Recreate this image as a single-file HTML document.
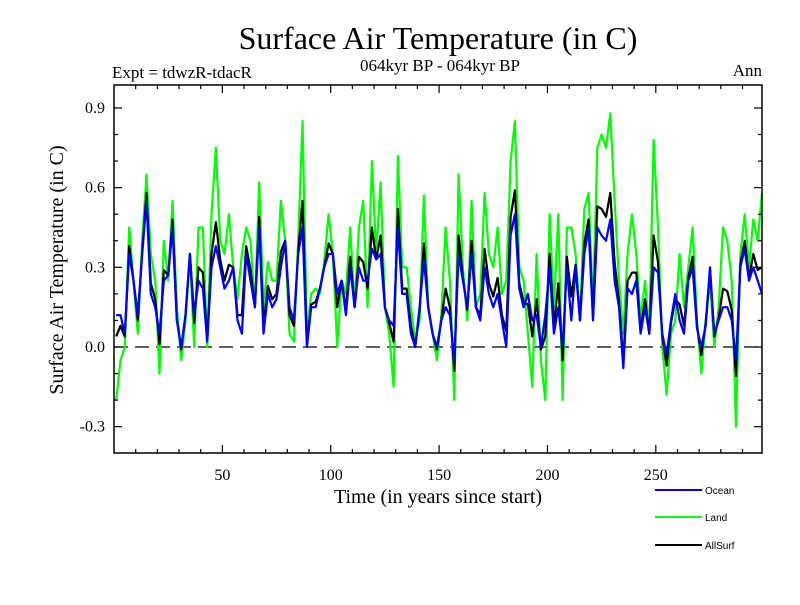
<!DOCTYPE html>
<html><head><meta charset="utf-8"><style>
body{margin:0;background:#fff;}
svg text{font-family:"Liberation Serif",serif;}
</style></head><body>
<svg id="chart" width="800" height="600" xmlns="http://www.w3.org/2000/svg">
<rect width="800" height="600" fill="#fff"/>
<text x="438" y="49" font-size="32" text-anchor="middle">Surface Air Temperature (in C)</text>
<text x="112" y="78" font-size="17">Expt = tdwzR-tdacR</text>
<text x="440" y="71" font-size="17" text-anchor="middle">064kyr BP - 064kyr BP</text>
<text x="762" y="76" font-size="17" text-anchor="end">Ann</text>
<text transform="translate(63,270) rotate(-90)" font-size="20" text-anchor="middle">Surface Air Temperature (in C)</text>
<text x="438" y="503" font-size="20" text-anchor="middle">Time (in years since start)</text>
<g id="plot"></g>
<g font-family="Liberation Sans,sans-serif">
<line x1="655" y1="490" x2="702" y2="490" stroke="#0000ff" stroke-width="2"/>
<text x="705" y="494" font-size="10" style="font-family:'Liberation Sans',sans-serif">Ocean</text>
<line x1="655" y1="517" x2="702" y2="517" stroke="#00ff00" stroke-width="2"/>
<text x="705" y="521" font-size="10" style="font-family:'Liberation Sans',sans-serif">Land</text>
<line x1="655" y1="545" x2="702" y2="545" stroke="#000" stroke-width="2"/>
<text x="705" y="549" font-size="10" style="font-family:'Liberation Sans',sans-serif">AllSurf</text>
</g>
</svg>
<script>
const startYear = 1, yearStep = 2;
const xTicks = [50,100,150,200,250];
const yTicks = [-0.3,0.0,0.3,0.6,0.9];
const yTickLabels = ["-0.3","0.0","0.3","0.6","0.9"];
const ocean = [0.12,0.12,0.05,0.35,0.25,0.12,0.35,0.55,0.20,0.15,0.05,0.25,0.27,0.45,0.10,0.00,0.12,0.35,0.12,0.25,0.22,0.02,0.30,0.38,0.30,0.22,
0.25,0.30,0.10,0.05,0.35,0.25,0.15,0.45,0.05,0.20,0.15,0.18,0.30,0.40,0.15,0.10,0.35,0.45,0.00,0.15,0.15,0.22,0.30,0.35,0.35,0.20,
0.25,0.12,0.30,0.15,0.30,0.25,0.25,0.37,0.33,0.35,0.15,0.10,0.08,0.45,0.20,0.20,0.05,0.00,0.15,0.33,0.15,0.05,0.00,0.10,0.15,0.12,-0.05,
0.35,0.25,0.15,0.35,0.15,0.10,0.30,0.20,0.15,0.20,0.10,0.00,0.42,0.50,0.22,0.15,0.20,0.10,0.12,0.00,0.12,0.30,0.05,0.15,0.00,0.30,
0.10,0.30,0.10,0.35,0.45,0.10,0.45,0.42,0.40,0.48,0.25,0.15,-0.08,0.22,0.20,0.25,0.05,0.15,0.05,0.30,0.28,0.05,-0.03,0.10,0.20,0.10,0.05,
0.25,0.30,0.07,0.00,0.08,0.30,0.05,0.10,0.15,0.15,0.10,-0.05,0.30,0.37,0.25,0.30,0.25,0.20];
const land = [-0.20,-0.05,0.00,0.45,0.25,0.05,0.40,0.65,0.35,0.25,-0.10,0.40,0.25,0.55,0.15,-0.05,0.10,0.35,0.00,0.45,0.45,0.00,0.50,0.75,0.40,0.35,
0.50,0.30,0.18,0.35,0.45,0.40,0.15,0.62,0.15,0.32,0.25,0.25,0.55,0.40,0.05,0.02,0.40,0.85,0.05,0.20,0.22,0.20,0.32,0.50,0.35,0.00,
0.25,0.20,0.45,0.15,0.45,0.55,0.15,0.70,0.35,0.62,0.15,0.05,-0.15,0.72,0.30,0.30,0.15,0.02,0.10,0.57,0.15,0.05,-0.05,0.12,0.45,0.25,-0.20,
0.65,0.30,0.10,0.55,0.15,0.20,0.58,0.35,0.30,0.45,0.20,0.25,0.70,0.85,0.30,0.25,0.05,-0.15,0.35,-0.05,-0.20,0.50,0.15,0.50,-0.20,0.45,
0.45,0.35,0.10,0.52,0.58,0.15,0.75,0.80,0.75,0.88,0.55,0.25,0.05,0.35,0.50,0.35,0.10,0.25,0.05,0.78,0.45,0.00,-0.18,0.05,0.10,0.35,0.15,
0.30,0.45,0.10,-0.10,0.10,0.25,0.00,0.15,0.45,0.40,0.25,-0.30,0.35,0.50,0.30,0.48,0.40,0.58];
const allSurf = [0.04,0.08,0.04,0.38,0.25,0.10,0.36,0.58,0.24,0.18,0.01,0.29,0.27,0.48,0.11,-0.01,0.12,0.35,0.09,0.30,0.28,0.02,0.35,0.47,0.33,0.25,
0.31,0.30,0.12,0.12,0.38,0.29,0.15,0.49,0.08,0.23,0.18,0.20,0.36,0.40,0.12,0.08,0.36,0.55,0.01,0.16,0.17,0.22,0.30,0.39,0.35,0.15,
0.25,0.14,0.34,0.15,0.34,0.32,0.22,0.45,0.33,0.42,0.15,0.09,0.02,0.52,0.22,0.22,0.08,0.00,0.14,0.39,0.15,0.05,-0.01,0.10,0.22,0.15,-0.09,
0.42,0.26,0.14,0.40,0.15,0.12,0.37,0.24,0.19,0.26,0.12,0.06,0.49,0.59,0.24,0.17,0.16,0.04,0.18,-0.01,0.04,0.35,0.08,0.24,-0.05,0.34,
0.19,0.31,0.10,0.39,0.48,0.11,0.53,0.52,0.49,0.58,0.32,0.17,-0.05,0.25,0.28,0.28,0.06,0.18,0.05,0.42,0.32,0.04,-0.07,0.09,0.18,0.16,0.08,
0.26,0.34,0.08,-0.03,0.09,0.29,0.04,0.11,0.22,0.21,0.14,-0.11,0.31,0.40,0.26,0.35,0.29,0.30];

const L=114,R=762,T=85,B=453;
function xs(yr){return L+(yr-0)*(R-L)/299;}
function ys(v){return 347 - v*265.6;}
const NS="http://www.w3.org/2000/svg";
const plot=document.getElementById('plot');
function mk(tag,attrs){const e=document.createElementNS(NS,tag);for(const k in attrs)e.setAttribute(k,attrs[k]);plot.appendChild(e);return e;}
// zero line
let z=mk('line',{x1:L,x2:R,y1:ys(0),y2:ys(0),stroke:'#000','stroke-width':1.3,'stroke-dasharray':'14,7'});


function series(arr,color,name){
  const pts=arr.map((v,i)=>xs(startYear+i*yearStep).toFixed(1)+','+ys(v).toFixed(1)).join(' ');
  const p=mk('polyline',{points:pts,fill:'none',stroke:color,'stroke-width':2.2,'stroke-linejoin':'round'});
  
  
}
series(land,'#00ff00','land-line');
series(allSurf,'#000000','allsurf-line');
series(ocean,'#0000ff','ocean-line');
// frame
let f=mk('rect',{x:L,y:T,width:R-L,height:B-T,fill:'none',stroke:'#000','stroke-width':1.5});


// x ticks
for(let yr=10;yr<299;yr+=10){
  const major=yr%50===0, len=major?8:4;
  mk('line',{x1:xs(yr),x2:xs(yr),y1:B,y2:B-len,stroke:'#000','stroke-width':1.2});
  mk('line',{x1:xs(yr),x2:xs(yr),y1:T,y2:T+len,stroke:'#000','stroke-width':1.2});
}
xTicks.forEach(t=>{
  const tx=mk('text',{x:xs(t),y:480,'font-size':16,'text-anchor':'middle'});
  tx.textContent=t;
  
  
});
// y ticks
for(let k=-3;k<=9;k++){
  const v=k/10, major=(k%3===0), len=major?8:4;
  mk('line',{x1:L,x2:L+len,y1:ys(v),y2:ys(v),stroke:'#000','stroke-width':1.2});
  mk('line',{x1:R,x2:R-len,y1:ys(v),y2:ys(v),stroke:'#000','stroke-width':1.2});
}
yTicks.forEach((t,i)=>{
  const tx=mk('text',{x:105,y:ys(t)+5,'font-size':16,'text-anchor':'end'});
  tx.textContent=yTickLabels[i];
  
  
});
</script>
</body></html>
